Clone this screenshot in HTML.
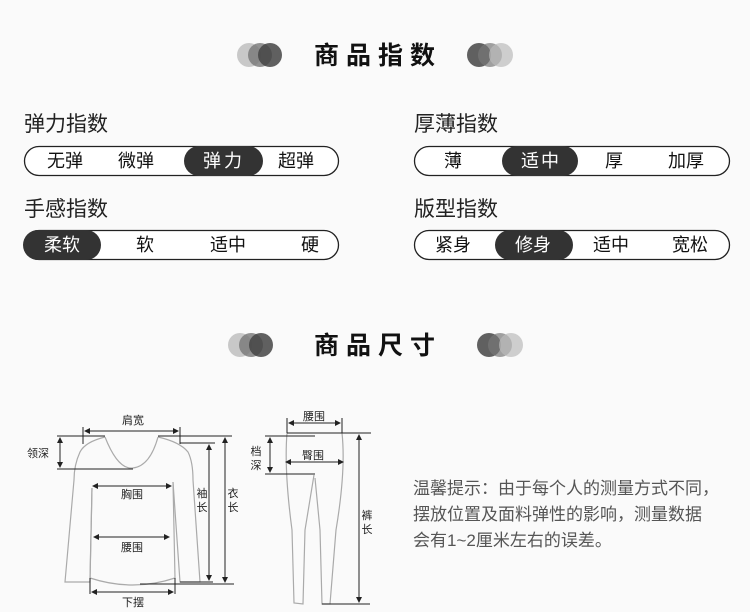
<!DOCTYPE html>
<html><head><meta charset="utf-8"><style>
html,body{margin:0;padding:0;background:#fafafa;}
svg{display:block;font-family:"Liberation Sans","Noto Sans CJK SC",sans-serif;}
</style></head><body>
<svg width="750" height="612" viewBox="0 0 750 612" xmlns="http://www.w3.org/2000/svg">
<rect width="750" height="612" fill="#fafafa"/>
<g>
<circle cx="249" cy="55" r="12" fill="#bbb" opacity="0.8"/>
<circle cx="260" cy="55" r="12" fill="#777" opacity="0.8"/>
<circle cx="270" cy="55" r="12" fill="#444" opacity="0.85"/>
<circle cx="479" cy="55" r="12" fill="#444" opacity="0.85"/>
<circle cx="490" cy="55" r="12" fill="#777" opacity="0.7"/>
<circle cx="501" cy="55" r="12" fill="#bbb" opacity="0.7"/>
<text x="378" y="64" text-anchor="middle" font-size="25" font-weight="bold" letter-spacing="7" fill="#111">商品指数</text>
</g>
<g font-size="21" fill="#222">
<text x="24" y="131">弹力指数</text>
<text x="24" y="216">手感指数</text>
<text x="414" y="131">厚薄指数</text>
<text x="414" y="216">版型指数</text>
</g>
<g fill="#fff" stroke="#222" stroke-width="1.3">
<rect x="24.5" y="146.5" width="314" height="29" rx="14.5"/>
<rect x="24.5" y="230.5" width="314" height="29" rx="14.5"/>
<rect x="414.5" y="146.5" width="315" height="29" rx="14.5"/>
<rect x="414.5" y="230.5" width="315" height="29" rx="14.5"/>
</g>
<g fill="#333">
<rect x="184" y="146" width="79" height="30" rx="15"/>
<rect x="23" y="230" width="78" height="30" rx="15"/>
<rect x="502" y="146" width="76" height="30" rx="15"/>
<rect x="495" y="230" width="78" height="30" rx="15"/>
</g>
<g font-size="18" text-anchor="middle" fill="#111">
<text x="65" y="167">无弹</text><text x="136" y="167">微弹</text>
<text x="224" y="167" fill="#fff" letter-spacing="3">弹力</text><text x="296" y="167">超弹</text>
<text x="62" y="251" fill="#fff">柔软</text><text x="145" y="251">软</text>
<text x="228" y="251">适中</text><text x="310" y="251">硬</text>
<text x="453" y="167">薄</text><text x="541" y="167" fill="#fff" letter-spacing="2">适中</text>
<text x="614" y="167">厚</text><text x="686" y="167">加厚</text>
<text x="453" y="251">紧身</text><text x="533" y="251" fill="#fff">修身</text>
<text x="611" y="251">适中</text><text x="690" y="251">宽松</text>
</g>
<g>
<circle cx="240" cy="345" r="12" fill="#bbb" opacity="0.8"/>
<circle cx="251" cy="345" r="12" fill="#777" opacity="0.8"/>
<circle cx="261" cy="345" r="12" fill="#444" opacity="0.85"/>
<circle cx="489" cy="345" r="12" fill="#444" opacity="0.85"/>
<circle cx="500" cy="345" r="12" fill="#777" opacity="0.7"/>
<circle cx="511" cy="345" r="12" fill="#bbb" opacity="0.7"/>
<text x="378" y="354" text-anchor="middle" font-size="25" font-weight="bold" letter-spacing="7" fill="#111">商品尺寸</text>
</g>
<g fill="none" stroke="#aaa" stroke-width="1.2">
<path d="M105,437 Q118,470 133,468 Q150,466 158,437"/>
<path d="M105,437 Q85,442 80,452 Q74,465 74,480 L65,582 L90,582 L92,488"/>
<path d="M158,437 Q180,442 188,452 Q193,462 193,480 L200,582 L180,582 L173,482"/>
<path d="M92,488 L90,578 Q133,592 175,578 L173,482"/>
</g>
<g stroke="#222" stroke-width="1" fill="none">
<line x1="83" y1="427" x2="83" y2="444"/><line x1="180" y1="427" x2="180" y2="444"/>
<line x1="86" y1="431" x2="177" y2="431"/>
<line x1="57" y1="436" x2="105" y2="436"/><line x1="158" y1="436" x2="232" y2="436"/>
<line x1="60" y1="439" x2="60" y2="466"/><line x1="57" y1="469" x2="133" y2="469"/>
<line x1="95" y1="486" x2="169" y2="486"/>
<line x1="96" y1="537" x2="167" y2="537"/>
<line x1="90" y1="578" x2="90" y2="594"/><line x1="175" y1="578" x2="175" y2="594"/>
<line x1="93" y1="592" x2="172" y2="592"/>
<line x1="180" y1="443" x2="215" y2="443"/><line x1="180" y1="582" x2="213" y2="582"/>
<line x1="209" y1="447" x2="209" y2="578"/>
<line x1="140" y1="584" x2="234" y2="584"/>
<line x1="225" y1="439" x2="225" y2="581"/>
</g>
<g fill="#222">
<path d="M84,431 l6,-3 v6z"/><path d="M179,431 l-6,-3 v6z"/>
<path d="M60,437 l-3,6 h6z"/><path d="M60,468 l-3,-6 h6z"/>
<path d="M92,486 l6,-3 v6z"/><path d="M172,486 l-6,-3 v6z"/>
<path d="M93,537 l6,-3 v6z"/><path d="M170,537 l-6,-3 v6z"/>
<path d="M91,592 l6,-3 v6z"/><path d="M174,592 l-6,-3 v6z"/>
<path d="M209,444 l-3,6 h6z"/><path d="M209,581 l-3,-6 h6z"/>
<path d="M225,437 l-3,6 h6z"/><path d="M225,583 l-3,-6 h6z"/>
</g>
<g font-size="11" fill="#222" text-anchor="middle">
<text x="133" y="424">肩宽</text>
<text x="38" y="457">领深</text>
<text x="132" y="498">胸围</text>
<text x="132" y="551">腰围</text>
<text x="133" y="606">下摆</text>
<text x="202" y="497">袖</text><text x="202" y="511">长</text>
<text x="233" y="497">衣</text><text x="233" y="511">长</text>
</g>
<g fill="none" stroke="#aaa" stroke-width="1.2">
<path d="M287,433 Q284,470 292,530 L294,603 L303,604 L305,530 L314,475"/>
<path d="M342,433 Q346,470 336,530 L330,604 L322,604 L320,530 L315,478"/>
</g>
<g stroke="#222" stroke-width="1" fill="none">
<line x1="287" y1="418" x2="287" y2="433"/><line x1="342" y1="418" x2="342" y2="433"/>
<line x1="290" y1="423" x2="339" y2="423"/>
<line x1="287" y1="433" x2="371" y2="433"/>
<line x1="265" y1="436" x2="315" y2="436"/><line x1="265" y1="474" x2="315" y2="474"/>
<line x1="270" y1="439" x2="270" y2="471"/>
<line x1="288" y1="462" x2="341" y2="462"/>
<line x1="322" y1="604" x2="370" y2="604"/>
<line x1="359" y1="436" x2="359" y2="601"/>
</g>
<g fill="#222">
<path d="M288,423 l6,-3 v6z"/><path d="M341,423 l-6,-3 v6z"/>
<path d="M270,437 l-3,6 h6z"/><path d="M270,473 l-3,-6 h6z"/>
<path d="M285,462 l6,-3 v6z"/><path d="M344,462 l-6,-3 v6z"/>
<path d="M359,434 l-3,6 h6z"/><path d="M359,603 l-3,-6 h6z"/>
</g>
<g font-size="11" fill="#222" text-anchor="middle">
<text x="314" y="420">腰围</text>
<text x="313" y="459">臀围</text>
<text x="256" y="455">档</text><text x="256" y="469">深</text>
<text x="367" y="519">裤</text><text x="367" y="533">长</text>
</g>
<g font-size="17" fill="#555">
<text x="413" y="494">温馨提示：由于每个人的测量方式不同，</text>
<text x="413" y="520">摆放位置及面料弹性的影响，测量数据</text>
<text x="413" y="546">会有1~2厘米左右的误差。</text>
</g>
</svg>
</body></html>
